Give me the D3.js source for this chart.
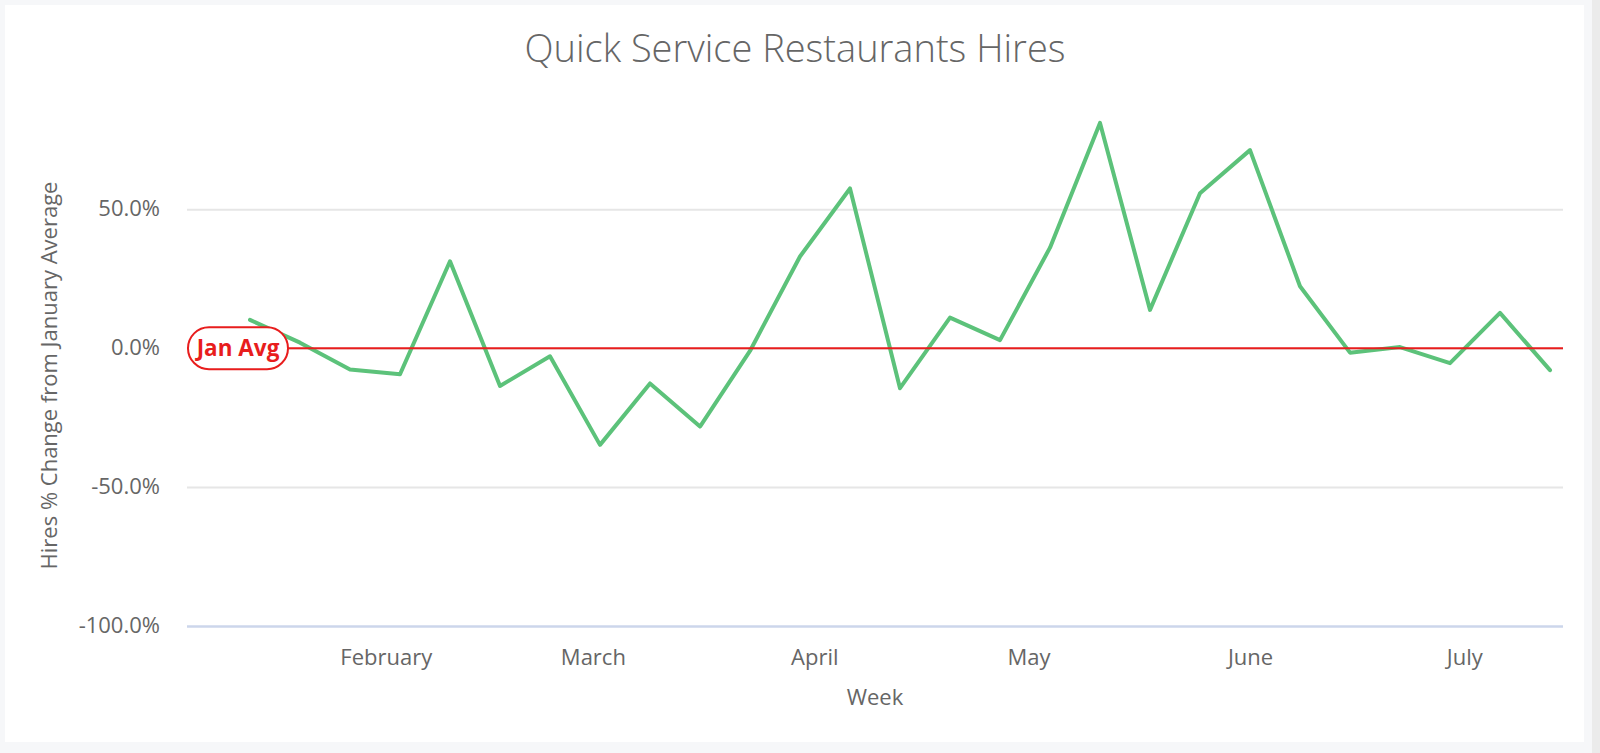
<!DOCTYPE html>
<html><head><meta charset="utf-8">
<script src="https://cdn.jsdelivr.net/npm/d3@7"></script>
<style>
body{margin:0;background:#f6f7f9;overflow:hidden;}
svg{display:block;font-family:"Open Sans",sans-serif;}
</style>
</head><body><svg id="c" width="1600" height="753"></svg>
<script>
// ---- data ----
const chartTitle = "Quick Service Restaurants Hires";
const xAxisTitle = "Week";
const yAxisTitle = "Hires % Change from January Average";
const weekStarts = ["2020-01-13","2020-01-20","2020-01-27","2020-02-03","2020-02-10","2020-02-17","2020-02-24",
  "2020-03-02","2020-03-09","2020-03-16","2020-03-23","2020-03-30","2020-04-06","2020-04-13","2020-04-20",
  "2020-04-27","2020-05-04","2020-05-11","2020-05-18","2020-05-25","2020-06-01","2020-06-08","2020-06-15",
  "2020-06-22","2020-06-29","2020-07-06","2020-07-13"];
const hiresPctChange = [10.2, 2.0, -7.7, -9.4, 31.3, -13.6, -2.9, -34.8, -12.7, -28.2, -1.0, 33.0, 57.5,
  -14.4, 11.0, 2.9, 36.2, 81.1, 13.8, 55.8, 71.3, 22.3, -1.6, 0.4, -5.4, 12.7, -7.9];
const monthTicks = ["2020-02-01","2020-03-01","2020-04-01","2020-05-01","2020-06-01","2020-07-01"];
const yTickValues = [-100, -50, 0, 50];
const refValue = 0;
const refLabel = "Jan Avg";

// ---- layout ----
const W = 1600, H = 753;
const plot = {left: 187, right: 1563, top: 70.4, bottom: 626};
const parse = d3.utcParse("%Y-%m-%d");
const dates = weekStarts.map(parse);
const data = dates.map((d, i) => ({date: d, value: hiresPctChange[i]}));

const svg = d3.select("#c");
// page & card
svg.append("rect").attr("width", W).attr("height", H).attr("fill", "#f6f7f9");
svg.append("rect").attr("x", 1592).attr("y", 0).attr("width", 8).attr("height", H).attr("fill", "#ebebeb");
svg.append("rect").attr("x", 5).attr("y", 5).attr("width", 1579).attr("height", 737).attr("fill", "#ffffff");

const x = d3.scaleUtc().domain(d3.extent(dates)).range([250, 1550]);
const y = d3.scaleLinear().domain([-100, 100]).range([plot.bottom, plot.top]);

// gridlines + y labels
const fmtPct = d => d3.format(".1f")(d).replace("\u2212", "-") + "%";
const yAxisG = svg.append("g").attr("transform", `translate(${plot.left},0)`)
  .call(d3.axisLeft(y).tickValues(yTickValues).tickSize(-(plot.right - plot.left)).tickPadding(27)
    .tickFormat(fmtPct));
yAxisG.select(".domain").remove();
yAxisG.selectAll(".tick line").attr("stroke", d => d === -100 ? "#ccd6eb" : "#e6e6e6")
  .attr("stroke-width", d => d === -100 ? 2.5 : 2);
yAxisG.selectAll(".tick text").attr("font-size", 22).attr("fill", "#666666")
  .attr("font-family", "'Open Sans', sans-serif").attr("dy", "0.3em").attr("x", -27);

// x axis labels
const xAxisG = svg.append("g").attr("transform", `translate(0,${plot.bottom})`)
  .call(d3.axisBottom(x).tickValues(monthTicks.map(parse)).tickSize(0).tickPadding(0)
    .tickFormat(d3.utcFormat("%B")));
xAxisG.select(".domain").remove();
xAxisG.selectAll(".tick text").attr("font-size", 22).attr("fill", "#666666")
  .attr("font-family", "'Open Sans', sans-serif").attr("dy", null).attr("y", 39);

// series line
const line = d3.line().x(d => x(d.date)).y(d => y(d.value));
svg.append("path").datum(data).attr("d", line).attr("fill", "none")
  .attr("stroke", "#5cc27a").attr("stroke-width", 4).attr("stroke-linejoin", "round").attr("stroke-linecap", "round");

// reference line + label
const red = "#e81d1d";
svg.append("line").attr("x1", plot.left).attr("x2", plot.right).attr("y1", y(refValue)).attr("y2", y(refValue))
  .attr("stroke", red).attr("stroke-width", 2);
const lblG = svg.append("g").attr("transform", `translate(${plot.left},${y(refValue)})`);
lblG.append("rect").attr("x", 1).attr("y", -21).attr("width", 100).attr("height", 42).attr("rx", 21)
  .attr("fill", "#ffffff").attr("stroke", red).attr("stroke-width", 2);
lblG.append("text").attr("x", 51).attr("y", 0).attr("dy", "0.36em").attr("text-anchor", "middle")
  .attr("font-size", 22.5).attr("font-weight", 700).attr("fill", red).text(refLabel);

// titles
svg.append("text").attr("x", 795).attr("y", 62).attr("text-anchor", "middle")
  .attr("font-size", 38).attr("font-weight", 300).attr("fill", "#666666").text(chartTitle);
svg.append("text").attr("x", (plot.left + plot.right) / 2).attr("y", 705).attr("text-anchor", "middle")
  .attr("font-size", 22).attr("fill", "#666666").text(xAxisTitle);
svg.append("text").attr("transform", `translate(57,${(180 + 571) / 2}) rotate(-90)`).attr("text-anchor", "middle")
  .attr("font-size", 22).attr("fill", "#666666").text(yAxisTitle);
</script>
</body></html>
